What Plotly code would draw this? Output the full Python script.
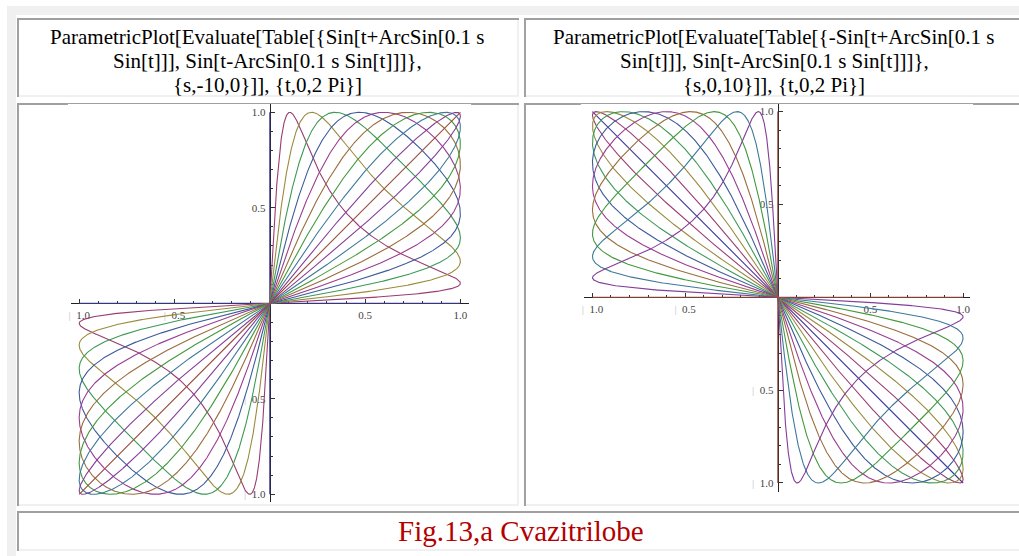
import colorsys
import numpy as np
import plotly.graph_objects as go

W, H = 1019, 556

S_LEFT = [-10, -9, -8, -7, -6, -5, -4, -3, -2, -1, 0]      # {s,-10,0}
S_RIGHT = [0, 1, 2, 3, 4, 5, 6, 7, 8, 9, 10]                # {s,0,10}
S_FACTOR = 0.1                                              # ArcSin[0.1 s Sin[t]]
T_START, T_END, T_SAMPLES = 0.0, 2 * np.pi, 2401            # {t,0,2 Pi}

MAJOR_TICKS = [-1.0, -0.5, 0.5, 1.0]
MAJOR_LABELS = ["1.0", "0.5", "0.5", "1.0"]
NEG_FLAGS = [True, True, False, False]
MINOR_TICKS = [-0.9, -0.8, -0.7, -0.6, -0.4, -0.3, -0.2, -0.1,
               0.1, 0.2, 0.3, 0.4, 0.6, 0.7, 0.8, 0.9]

HEADER_LEFT = ["ParametricPlot[Evaluate[Table[{Sin[t+ArcSin[0.1 s",
               "Sin[t]]], Sin[t-ArcSin[0.1 s Sin[t]]]},",
               "{s,-10,0}]], {t,0,2 Pi}]"]
HEADER_RIGHT = ["ParametricPlot[Evaluate[Table[{-Sin[t+ArcSin[0.1 s",
                "Sin[t]]], Sin[t-ArcSin[0.1 s Sin[t]]]},",
                "{s,0,10}]], {t,0,2 Pi}]"]
CAPTION = "Fig.13,a Cvazitrilobe"

# ---------------- styles ----------------
SERIF = "Liberation Serif, Times New Roman, serif"
DARK = "#a0a0a0"
LIGHT = "#f0f0f0"
PHI = (1 + 5 ** 0.5) / 2


def mma_color(i):
    h = (0.67 + 2.0 * i / PHI) % 1.0
    r, g, b = colorsys.hsv_to_rgb(h, 0.6, 0.6)
    return "rgb(%d,%d,%d)" % (round(r * 255), round(g * 255), round(b * 255))


def fx(px):
    return px / W


def fy(py):
    return 1 - py / H


def tick_text(lbl, neg):
    if neg:
        return "<span style='color:#c4c4c4'>|</span>\u00a0\u00a0" + lbl
    return lbl


TICKTEXT = [tick_text(l, n) for l, n in zip(MAJOR_LABELS, NEG_FLAGS)]

fig = go.Figure()

t = np.linspace(T_START, T_END, T_SAMPLES)


def add_family(svals, sign, xa, ya):
    for i, s in enumerate(svals):
        a = np.arcsin(np.clip(S_FACTOR * s * np.sin(t), -1, 1))
        x = sign * np.sin(t + a)
        y = np.sin(t - a)
        fig.add_trace(go.Scatter(x=x, y=y, mode="lines", xaxis=xa, yaxis=ya,
                                 line=dict(color=mma_color(i), width=1.1),
                                 hoverinfo="skip", showlegend=False))


add_family(S_LEFT, 1, "x", "y")
add_family(S_RIGHT, -1, "x2", "y2")


def axis_pair(ox, oy, unit, xl, xr, yt, yb):
    common = dict(showgrid=False, zeroline=False, showline=True,
                  linecolor="#222", linewidth=1, ticks="inside", ticklen=4,
                  tickwidth=1, tickcolor="#333", tickmode="array",
                  tickvals=MAJOR_TICKS, ticktext=TICKTEXT,
                  tickfont=dict(family=SERIF, size=11, color="#444"),
                  minor=dict(tickmode="array", tickvals=MINOR_TICKS, ticks="inside",
                             ticklen=2.5, tickwidth=1, tickcolor="#333"),
                  layer="below traces", fixedrange=True)
    xaxis = dict(common, domain=[fx(ox - xl * unit), fx(ox + xr * unit)],
                 range=[-xl, xr], anchor="free", position=fy(oy), side="bottom",
                 ticklabelstandoff=1)
    yaxis = dict(common, domain=[fy(oy + yb * unit), fy(oy - yt * unit)],
                 range=[-yb, yt], anchor="free", position=fx(ox), side="left",
                 ticklabelstandoff=2)
    return xaxis, yaxis


xa1, ya1 = axis_pair(268.3, 303.3, 191.0, 1.045, 1.043, 1.042, 1.042)
xa2, ya2 = axis_pair(777.3, 297.3, 185.7, 1.045, 1.038, 1.039, 1.047)

shapes = []


def rect(x0, y0, x1, y1, color):
    shapes.append(dict(type="rect", xref="paper", yref="paper",
                       x0=fx(x0), x1=fx(x1), y0=fy(y1), y1=fy(y0),
                       fillcolor=color, line=dict(width=0), layer="above"))


# table outer (outset) border
rect(5, 6, 14, H, LIGHT)
rect(5, 6, W, 15, LIGHT)


def cell(x0, y0, x1, y1, top_gaps=None):
    # inset border: dark top/left, light bottom/right
    rect(x0, y1 - 2, x1, y1, LIGHT)
    rect(x1 - 2, y0, x1, y1, LIGHT)
    if top_gaps:
        g0, g1 = top_gaps
        rect(x0, y0, g0, y0 + 2, DARK)
        rect(g0, y0, g1, y0 + 1, DARK)
        rect(g1, y0, x1, y0 + 2, DARK)
    else:
        rect(x0, y0, x1, y0 + 2, DARK)
    rect(x0, y0, x0 + 2, y1, DARK)


cell(15, 18, 518, 97)
cell(523, 18, 1025, 97)
cell(15, 103, 518, 506, top_gaps=(66, 470))
cell(523, 103, 1025, 506, top_gaps=(580, 973))
cell(15, 511, 1025, 551)

annotations = []
HEADER_CENTERS_Y = [36.5, 60.8, 85.0]
for lines, cx in ((HEADER_LEFT, 266.5), (HEADER_RIGHT, 774.0)):
    for txt, cy in zip(lines, HEADER_CENTERS_Y):
        annotations.append(dict(text=txt, x=fx(cx), y=fy(cy), xref="paper", yref="paper",
                                xanchor="center", yanchor="middle", showarrow=False,
                                font=dict(family=SERIF, size=21, color="#000")))
annotations.append(dict(text=CAPTION, x=fx(520), y=fy(531), xref="paper", yref="paper",
                        xanchor="center", yanchor="middle", showarrow=False,
                        font=dict(family=SERIF, size=29, color="#b40000")))

fig.update_layout(width=W, height=H, margin=dict(l=0, r=0, t=0, b=0),
                  paper_bgcolor="white", plot_bgcolor="rgba(0,0,0,0)",
                  xaxis=xa1, yaxis=ya1, xaxis2=xa2, yaxis2=ya2,
                  shapes=shapes, annotations=annotations, showlegend=False)

fig.write_html("out.html")
